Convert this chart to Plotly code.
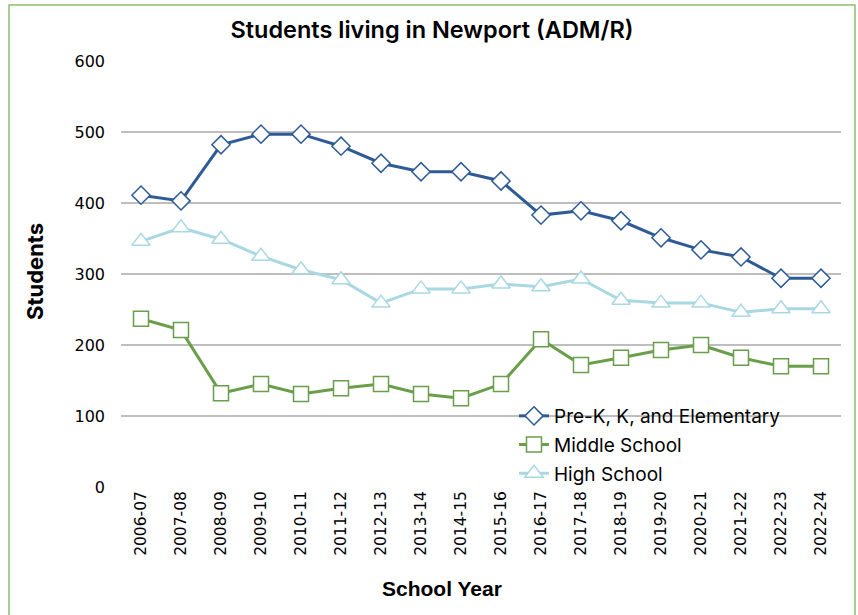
import plotly.graph_objects as go

years = ["2006-07", "2007-08", "2008-09", "2009-10", "2010-11", "2011-12", "2012-13",
         "2013-14", "2014-15", "2015-16", "2016-17", "2017-18", "2018-19", "2019-20",
         "2020-21", "2021-22", "2022-23", "2022-24"]
elementary = [411, 403, 482, 497, 497, 480, 456, 444, 444, 431, 383, 389, 375, 351, 334, 324, 294, 294]
middle = [237, 221, 132, 145, 131, 139, 145, 131, 125, 145, 208, 172, 182, 193, 200, 182, 170, 170]
high = [346, 365, 349, 325, 306, 292, 259, 279, 279, 286, 282, 293, 263, 259, 259, 246, 251, 251]

W, H = 858, 615
L, T = 121, 61
plot_right, plot_bottom = 841, 487
R, B = W - plot_right, H - plot_bottom
pw, ph = plot_right - L, plot_bottom - T

def px(x):
    return (x - L) / pw

def py(y):
    return (plot_bottom - y) / ph

fig = go.Figure()
fig.add_trace(go.Scatter(
    x=years, y=elementary, name="Pre-K, K, and Elementary", mode="lines+markers",
    legendgroup="a",
    line=dict(color="#2E5B96", width=3),
    marker=dict(symbol="diamond", size=14, color="white", line=dict(color="#2E5B96", width=1.5))))
fig.add_trace(go.Scatter(
    x=years, y=middle, name="Middle School", mode="lines+markers",
    legendgroup="b",
    line=dict(color="#6A9E4B", width=3),
    marker=dict(symbol="square", size=15, color="white", line=dict(color="#6A9E4B", width=1.5))))
fig.add_trace(go.Scatter(
    x=years, y=high, name="High School", mode="lines+markers",
    legendgroup="c",
    line=dict(color="#A9D8E3", width=3),
    marker=dict(symbol="triangle-up", size=16, color="white", line=dict(color="#A9D8E3", width=1.5))))

fig.update_layout(
    width=W, height=H,
    margin=dict(l=L, r=R, t=T, b=B),
    paper_bgcolor="white", plot_bgcolor="white",
    title=dict(text="Students living in Newport (ADM/R)", x=px(432), xanchor="center",
               xref="paper", y=1 - 30 / H, yanchor="middle",
               font=dict(family="Inter", size=23.5, color="black", weight=600)),
    font=dict(family="Inter", color="black"),
    xaxis=dict(type="category", range=[-0.5, 17.5], tickangle=-90,
               tickfont=dict(family="DejaVu Sans", size=15.5, color="black"), showgrid=False,
               showline=False, zeroline=False, ticks=""),
    yaxis=dict(range=[0, 600], dtick=100, showgrid=True, gridcolor="#BEBEBE", gridwidth=1.5,
               zeroline=False, showline=False, ticks="", ticklabelstandoff=15,
               tickfont=dict(family="DejaVu Sans", size=16, color="black")),
    legend=dict(x=px(514), y=py(397), xanchor="left", yanchor="top",
                bgcolor="rgba(0,0,0,0)", font=dict(size=19, color="black"),
                traceorder="grouped", tracegroupgap=1, itemwidth=30),
    showlegend=True,
    annotations=[
        dict(text="Students", xref="paper", yref="paper", x=px(35), y=py(272),
             xanchor="center", yanchor="middle", textangle=-90, showarrow=False,
             font=dict(family="Inter", size=22, weight="bold", color="black")),
        dict(text="School Year", xref="paper", yref="paper", x=px(442), y=py(588),
             xanchor="center", yanchor="middle", showarrow=False,
             font=dict(family="Liberation Sans Narrow, Liberation Sans", size=21,
                       weight="bold", color="black")),
    ],
    shapes=[
        dict(type="rect", xref="paper", yref="paper", layer="between",
             x0=px(475), x1=px(834), y0=py(493), y1=py(395),
             fillcolor="white", line=dict(width=0)),
        dict(type="rect", xref="paper", yref="paper", layer="above",
             x0=px(9), x1=px(855), y0=py(640), y1=py(5),
             fillcolor="rgba(0,0,0,0)", line=dict(color="#8DBE6E", width=1.5)),
    ],
)

fig.write_html("out.html", config={"displayModeBar": False},
               post_script="document.body.style.margin='0';")
